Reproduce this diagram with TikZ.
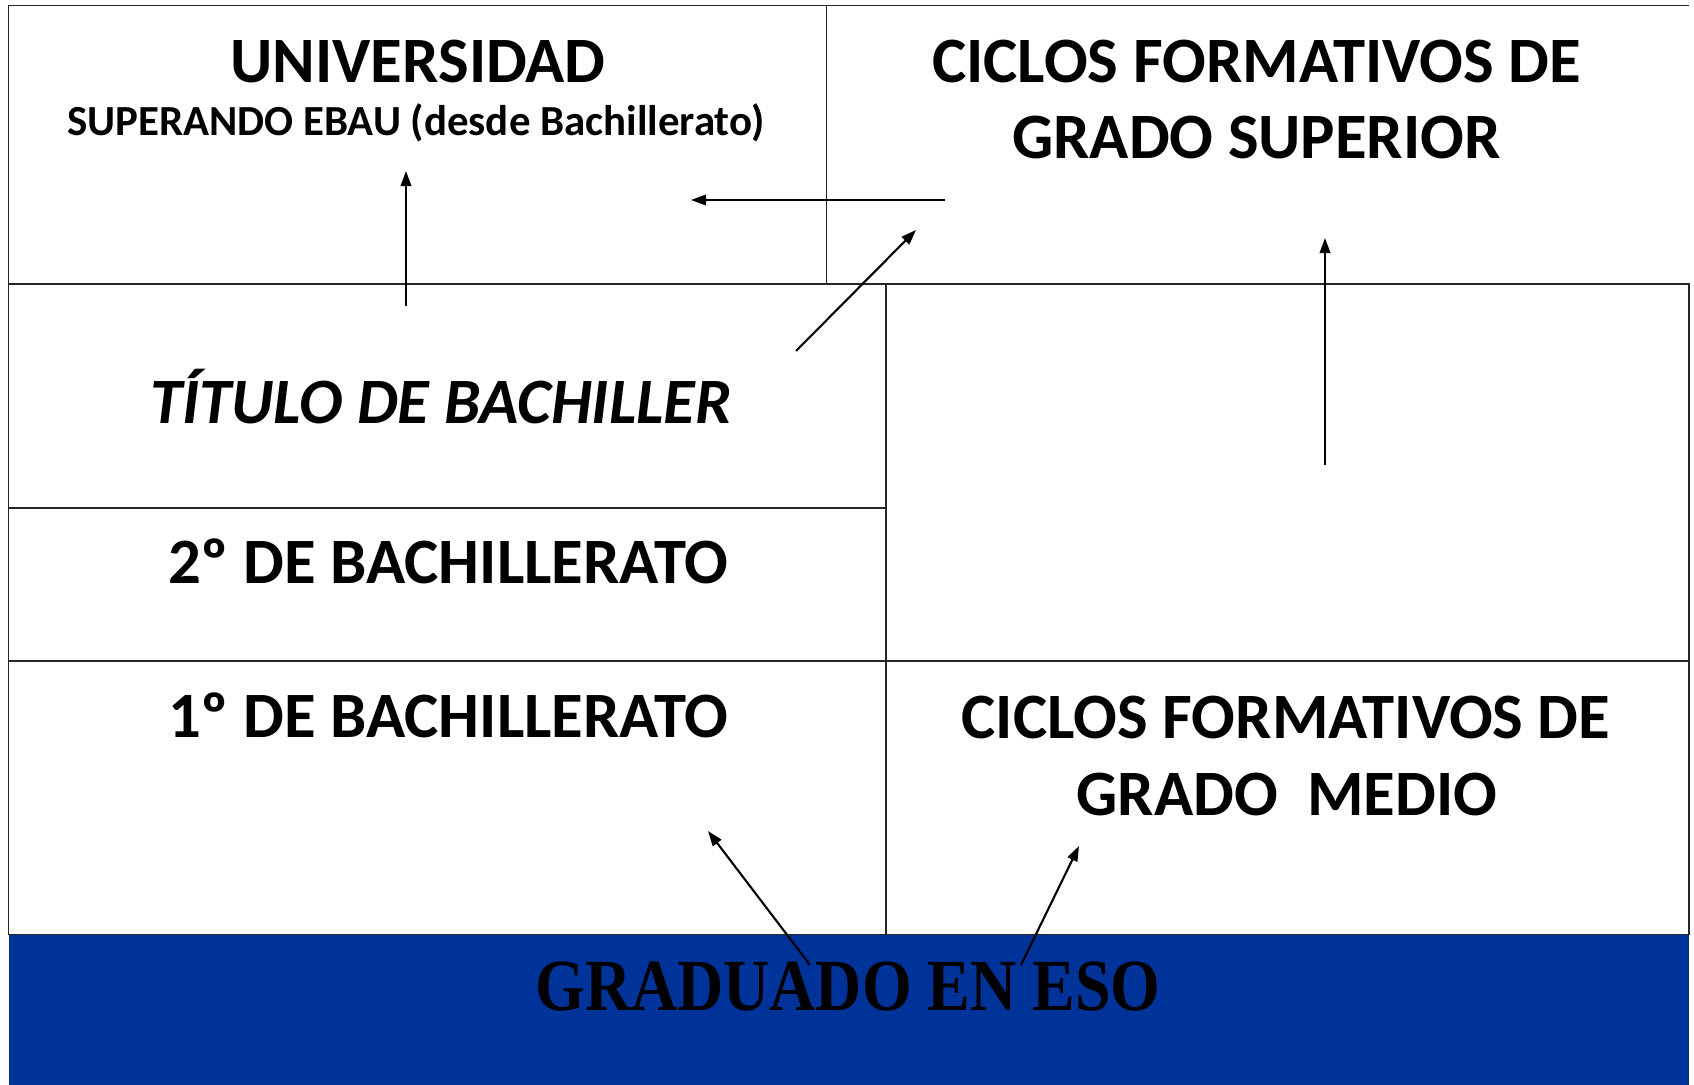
\documentclass[tikz,border=0pt]{standalone}
\usepackage{fontspec}
\setmainfont{Carlito}
\newfontfamily\esofont{Liberation Serif}
\usetikzlibrary{arrows.meta}
\definecolor{esoblue}{HTML}{003399}
\tikzset{
  rule/.style={line width=0.4pt, draw=black!85},
  link/.style={line width=0.6pt, -{Triangle[length=4.3pt,width=3pt]}},
  big/.style={font=\bfseries\fontsize{18.4}{21}\selectfont, anchor=base, inner sep=0pt},
  small/.style={font=\bfseries\fontsize{12.2}{14}\selectfont, anchor=base, inner sep=0pt},
}

\begin{document}
\begin{tikzpicture}[x=0.01cm, y=-0.01cm]
      \useasboundingbox (0,0) rectangle (1694,1085);
      \fill[esoblue] (8.6,934.5) rectangle (1689,1085);
      \draw[rule] (8.6,934.5) -- (8.6,5.4) -- (1689,5.4);
      \draw[rule] (826.5,5.4) -- (826.5,284);
      \draw[rule] (8.6,284) -- (1689,284) -- (1689,934.5) -- (8.6,934.5);
      \draw[rule] (886,284) -- (886,934.5);
      \draw[rule] (8.6,508) -- (886,508);
      \draw[rule] (8.6,661) -- (1689,661);

      \node[big] (univ) at (418,83) {UNIVERSIDAD};
      \node[small] (ebau) at (416,136) {SUPERANDO EBAU (desde Bachillerato)};
      \node[big] (sup1) at (1256.5,83) {CICLOS FORMATIVOS DE};
      \node[big] (sup2) at (1256.5,159) {GRADO SUPERIOR};
      \node[big, font=\bfseries\itshape\fontsize{18.4}{21}\selectfont] (titulo) at (441,423.5) {TÍTULO DE BACHILLER};
      \node[big] (bach2) at (448,583) {2º DE BACHILLERATO};
      \node[big] (bach1) at (448,737) {1º DE BACHILLERATO};
      \node[big] (med1) at (1286,738) {CICLOS FORMATIVOS DE};
      \node[big] (med2) at (1287,815) {GRADO\ \ MEDIO};
      \node[anchor=base, inner sep=0pt, xscale=0.87, font=\esofont\bfseries\fontsize{20.9}{24}\selectfont] (eso) at (848,1010) {GRADUADO EN ESO};

      \coordinate (bachup) at (406,306);
      \coordinate (univin) at (406,171);
      \coordinate (supout) at (945,200);
      \coordinate (univside) at (691,200);
      \coordinate (tituloout) at (796,351);
      \coordinate (supin) at (916,230);
      \coordinate (medup) at (1325,465);
      \coordinate (supbase) at (1325,238);
      \coordinate (esoleft) at (810,965);
      \coordinate (bach1in) at (708,831);
      \coordinate (esoright) at (1021,965);
      \coordinate (medin) at (1079,846);

      \draw[link] (bachup) -- (univin);
      \draw[link] (supout) -- (univside);
      \draw[link] (tituloout) -- (supin);
      \draw[link] (medup) -- (supbase);
      \draw[link] (esoleft) -- (bach1in);
      \draw[link] (esoright) -- (medin);
    \end{tikzpicture}
\end{document}
